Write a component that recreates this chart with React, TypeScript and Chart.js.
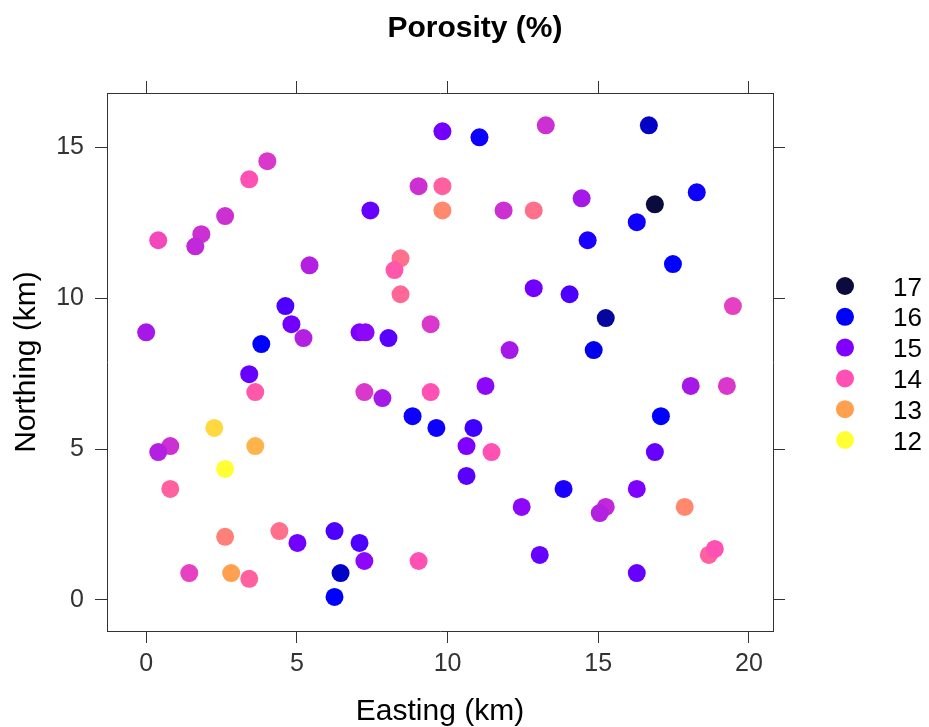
import { useEffect, useRef } from 'react';
import { Chart, registerables } from 'chart.js';

Chart.register(...registerables);

// Sample locations (km) and porosity (%)
const easting = [
  9.83, 4.02, 3.42, 9.04, 9.83, 7.44, 9.83, 2.62, 1.83, 1.63, 0.40, 5.42, 8.44, 8.24, 8.44,
  4.62, 4.82, 5.22, 0.0, 3.82, 7.08, 7.28, 8.04, 9.44,
  11.06, 13.26, 16.68, 11.86, 12.86, 14.45, 16.88, 18.27, 16.28, 14.65, 17.48, 12.86, 14.05,
  19.47, 15.25, 12.06, 14.85,
  3.42, 3.62, 7.24, 7.84, 9.44, 8.84, 9.63, 2.26, 3.62, 0.80, 0.40, 2.62, 0.80, 2.62, 4.42,
  5.02, 6.25, 7.08, 7.24, 9.04, 6.45, 6.25, 1.43, 2.82, 3.42,
  11.26, 18.07, 19.27, 17.08, 10.86, 10.63, 11.46, 16.88, 10.63, 13.85, 12.46, 16.28, 15.25,
  15.05, 17.87, 18.67, 18.87, 13.06, 16.28,
];
const northing = [
  15.53, 14.54, 13.94, 13.71, 13.71, 12.91, 12.91, 12.72, 12.12, 11.72, 11.92, 11.09, 11.32, 10.93, 10.13,
  9.74, 9.14, 8.68, 8.87, 8.48, 8.87, 8.87, 8.68, 9.14,
  15.33, 15.73, 15.73, 12.91, 12.91, 13.31, 13.11, 13.51, 12.52, 11.92, 11.13, 10.33, 10.13,
  9.74, 9.34, 8.28, 8.28,
  7.48, 6.89, 6.89, 6.69, 6.89, 6.09, 5.70, 5.70, 5.10, 5.10, 4.90, 4.34, 3.68, 2.09, 2.28,
  1.89, 2.28, 1.89, 1.29, 1.29, 0.89, 0.10, 0.89, 0.89, 0.70,
  7.09, 7.09, 7.09, 6.09, 5.70, 5.10, 4.90, 4.90, 4.11, 3.68, 3.08, 3.68, 3.08,
  2.88, 3.08, 1.49, 1.69, 1.49, 0.89,
];
const porosity = [
  15.1, 14.3, 14.0, 14.4, 13.8, 15.2, 13.3, 14.4, 14.4, 14.5, 14.1, 14.6, 13.6, 13.9, 13.7,
  15.4, 15.1, 14.6, 14.7, 16.0, 15.0, 14.9, 15.3, 14.3,
  15.9, 14.4, 16.3, 14.4, 13.6, 14.7, 17.0, 15.9, 15.9, 15.8, 16.0, 15.1, 15.4,
  14.2, 16.5, 14.7, 16.1,
  15.2, 13.9, 14.3, 14.7, 14.0, 15.9, 15.9, 12.4, 12.8, 14.4, 14.6, 12.0, 13.8, 13.4, 13.6,
  15.1, 15.4, 15.4, 14.9, 14.0, 16.3, 16.0, 14.2, 13.0, 13.8,
  14.9, 14.7, 14.3, 16.0, 15.5, 15.0, 14.0, 15.2, 15.3, 15.8, 14.9, 15.0, 14.5,
  14.6, 13.3, 13.8, 14.0, 15.2, 15.2,
];

const xTickValues = [0, 5, 10, 15, 20];
const yTickValues = [0, 5, 10, 15];
const legendLevels = [17, 16, 15, 14, 13, 12];

// colour key: level -> colour
const paletteLevels = [12, 13, 14, 15, 16, 17];
const paletteColors = ['#FFFF33', '#FFA050', '#FF50B4', '#8000FF', '#0000FF', '#0B0B3D'];

const FONT = '"Liberation Sans", Arial, Helvetica, sans-serif';

function hexToRgb(h: string): number[] {
  const n = parseInt(h.slice(1), 16);
  return [(n >> 16) & 255, (n >> 8) & 255, n & 255];
}

function colorFor(v: number): string {
  const lo = paletteLevels[0];
  const hi = paletteLevels[paletteLevels.length - 1];
  const t = Math.min(hi, Math.max(lo, v));
  let i = 0;
  while (i < paletteLevels.length - 2 && t > paletteLevels[i + 1]) i++;
  const f = (t - paletteLevels[i]) / (paletteLevels[i + 1] - paletteLevels[i]);
  const a = hexToRgb(paletteColors[i]);
  const b = hexToRgb(paletteColors[i + 1]);
  const c = a.map((av, k) => Math.round(av + (b[k] - av) * f));
  return `rgb(${c[0]},${c[1]},${c[2]})`;
}

const decorPlugin = {
  id: 'decor',
  afterDraw(chart: any) {
    const { ctx, chartArea } = chart;
    ctx.save();
    ctx.fillStyle = '#000';
    ctx.textBaseline = 'alphabetic';
    ctx.textAlign = 'center';
    ctx.font = `bold 30px ${FONT}`;
    ctx.fillText('Porosity (%)', 475, 37);

    ctx.font = `30px ${FONT}`;
    ctx.fillText('Easting (km)', (chartArea.left + chartArea.right) / 2, 720);

    ctx.save();
    ctx.translate(35, (chartArea.top + chartArea.bottom) / 2);
    ctx.rotate(-Math.PI / 2);
    ctx.fillText('Northing (km)', 0, 0);
    ctx.restore();

    // colour key
    const cx = chartArea.right + 72;
    const cy = (chartArea.top + chartArea.bottom) / 2 + 1;
    const step = 30.8;
    ctx.font = `26px ${FONT}`;
    ctx.textAlign = 'left';
    legendLevels.forEach((lv, i) => {
      const y = cy + (i - (legendLevels.length - 1) / 2) * step;
      ctx.beginPath();
      ctx.arc(cx, y, 9, 0, Math.PI * 2);
      ctx.fillStyle = colorFor(lv);
      ctx.fill();
      ctx.fillStyle = '#000';
      ctx.fillText(String(lv), cx + 48, y + 9.5);
    });
    ctx.restore();
  },
};

const axisLine = '#333333';

export default function App() {
  const ref = useRef<HTMLCanvasElement | null>(null);

  useEffect(() => {
    if (!ref.current) return;
    const points = easting.map((x, i) => ({ x, y: northing[i] }));
    const colors = porosity.map((p) => colorFor(p));
    const gridOpts = {
      display: true,
      drawOnChartArea: false,
      drawTicks: true,
      tickLength: 12,
      color: axisLine,
      lineWidth: 1,
    };
    const chart = new Chart(ref.current, {
      type: 'scatter',
      data: {
        datasets: [
          {
            label: 'Porosity (%)',
            data: points,
            backgroundColor: colors,
            borderWidth: 0,
            pointRadius: 9,
            pointHoverRadius: 9,
          },
        ],
      },
      options: {
        responsive: false,
        animation: false,
        events: [],
        layout: { padding: 0 },
        plugins: {
          legend: { display: false },
          title: { display: false },
          tooltip: { enabled: false },
        },
        scales: {
          x: {
            type: 'linear',
            position: 'bottom',
            min: -1.3,
            max: 20.8,
            afterBuildTicks: (s: any) => {
              s.ticks = xTickValues.map((value) => ({ value }));
            },
            afterFit: (s: any) => {
              s.height = 96;
            },
            grid: gridOpts,
            border: { display: true, color: axisLine, width: 1 },
            ticks: {
              font: { family: FONT, size: 25 },
              color: '#333333',
              padding: 6,
              maxRotation: 0,
            },
          },
          x2: {
            type: 'linear',
            axis: 'x',
            position: 'top',
            min: -1.3,
            max: 20.8,
            afterBuildTicks: (s: any) => {
              s.ticks = xTickValues.map((value) => ({ value }));
            },
            afterFit: (s: any) => {
              s.height = 93;
            },
            grid: gridOpts,
            border: { display: true, color: axisLine, width: 1 },
            ticks: { display: false },
          },
          y: {
            type: 'linear',
            position: 'left',
            min: -1.03,
            max: 16.8,
            afterBuildTicks: (s: any) => {
              s.ticks = yTickValues.map((value) => ({ value }));
            },
            afterFit: (s: any) => {
              s.width = 107;
            },
            grid: gridOpts,
            border: { display: true, color: axisLine, width: 1 },
            ticks: {
              font: { family: FONT, size: 25 },
              color: '#333333',
              padding: 11,
            },
          },
          y2: {
            type: 'linear',
            axis: 'y',
            position: 'right',
            min: -1.03,
            max: 16.8,
            afterBuildTicks: (s: any) => {
              s.ticks = yTickValues.map((value) => ({ value }));
            },
            afterFit: (s: any) => {
              s.width = 156;
            },
            grid: gridOpts,
            border: { display: true, color: axisLine, width: 1 },
            ticks: { display: false },
          },
        },
      },
      plugins: [decorPlugin],
    } as any);
    return () => chart.destroy();
  }, []);

  return (
    <canvas
      ref={ref}
      width={929}
      height={727}
      style={{ position: 'fixed', left: 0, top: 0, display: 'block' }}
    />
  );
}
